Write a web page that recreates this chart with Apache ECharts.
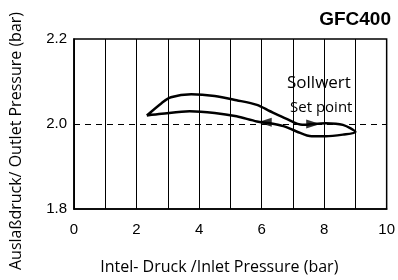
<!DOCTYPE html>
<html>
<head>
<meta charset="utf-8">
<script src="https://cdn.jsdelivr.net/npm/echarts@6/dist/echarts.min.js"></script>
<style>
  html, body { margin: 0; padding: 0; background: #fff; }
  #chart { width: 398px; height: 280px; }
</style>
</head>
<body>
<div id="chart"></div>
<script>
// Hysteresis loop (inlet bar, outlet bar)
var upperX = [2.33, 2.8, 3.1, 3.75, 4.5, 5.2, 5.85, 6.27, 6.8, 7.3, 8.05, 8.6, 9.0];
var upperY = [2.020, 2.049, 2.063, 2.070, 2.066, 2.056, 2.045, 2.030, 2.012, 1.998, 2.002, 1.998, 1.981];
var lowerX = [9.0, 8.6, 8.05, 7.6, 7.1, 6.7, 6.27, 5.85, 5.2, 4.5, 3.7, 2.8, 2.33];
var lowerY = [1.981, 1.975, 1.971, 1.971, 1.983, 1.995, 2.002, 2.006, 2.018, 2.026, 2.030, 2.024, 2.020];
// arrow heads on the loop: x, y, rotation
var arrowPts = [[7.65, 2.000, -90], [6.1, 2.004, 90]];
var setPoint = 2.0;

var loop = [];
for (var i = 0; i < upperX.length; i++) loop.push([upperX[i], upperY[i]]);
for (var j = 1; j < lowerX.length; j++) loop.push([lowerX[j], lowerY[j]]);

var mychart = echarts.init(document.getElementById('chart'));

var option = {
    backgroundColor: '#fff',
    animation: false,
    title: {
        text: 'GFC400',
        right: 7,
        top: 10,
        padding: 0,
        textStyle: { fontFamily: 'Liberation Sans', fontWeight: 'bold', fontSize: 19, color: '#000' }
    },
    grid: {
        left: 74, right: 6, top: 39, bottom: 69,
        show: true, borderColor: '#000', borderWidth: 1.5
    },
    xAxis: {
        type: 'value', min: 0, max: 10, interval: 1,
        name: 'Intel- Druck /Inlet Pressure (bar)',
        nameLocation: 'middle', nameGap: 50,
        nameTextStyle: { fontFamily: 'Open Sans', fontSize: 16, color: '#000', padding: [0, 22, 0, 0] },
        axisLine: { lineStyle: { color: '#000', width: 1.5 } },
        axisTick: { show: false },
        axisLabel: {
            margin: 13, color: '#000', fontFamily: 'Liberation Sans', fontSize: 15,
            formatter: function (v) { return v % 2 === 0 ? String(v) : ''; }
        },
        splitLine: { show: true, lineStyle: { color: '#000', width: 1 } }
    },
    yAxis: {
        type: 'value', min: 1.8, max: 2.2, interval: 0.2,
        axisLine: { lineStyle: { color: '#000', width: 1.5 } },
        axisTick: { show: false },
        axisLabel: {
            margin: 7, color: '#000', fontFamily: 'Liberation Sans', fontSize: 15,
            formatter: function (v) { return v.toFixed(1); }
        },
        splitLine: { show: false }
    },
    graphic: [
        {
            type: 'text', x: 16, y: 141, rotation: Math.PI / 2,
            style: {
                text: 'Auslaßdruck/ Outlet Pressure (bar)', fontFamily: 'Open Sans', fontSize: 16,
                fill: '#000', align: 'center', verticalAlign: 'middle'
            }
        },
        { type: 'text', left: 287, top: 75, style: { text: 'Sollwert', fontFamily: 'Open Sans', fontSize: 17, fill: '#000' } },
        { type: 'text', left: 290, top: 100, style: { text: 'Set point', fontFamily: 'Open Sans', fontSize: 15, fill: '#000' } }
    ],
    series: [
        {
            type: 'line',
            data: loop,
            symbol: 'none',
            smooth: 0.3,
            lineStyle: { color: '#000', width: 2.5 },
            markLine: {
                silent: true,
                symbol: 'none',
                label: { show: false },
                lineStyle: { color: '#000', type: [6, 5], width: 1 },
                data: [{ yAxis: setPoint }]
            },
            z: 3
        },
        {
            type: 'scatter',
            data: arrowPts.map(function (p) { return { value: [p[0], p[1]], symbolRotate: p[2] }; }),
            symbol: 'triangle',
            symbolSize: [9, 14],
            itemStyle: { color: '#000' },
            z: 4
        }
    ]
};
mychart.setOption(option, true);
</script>
</body>
</html>
